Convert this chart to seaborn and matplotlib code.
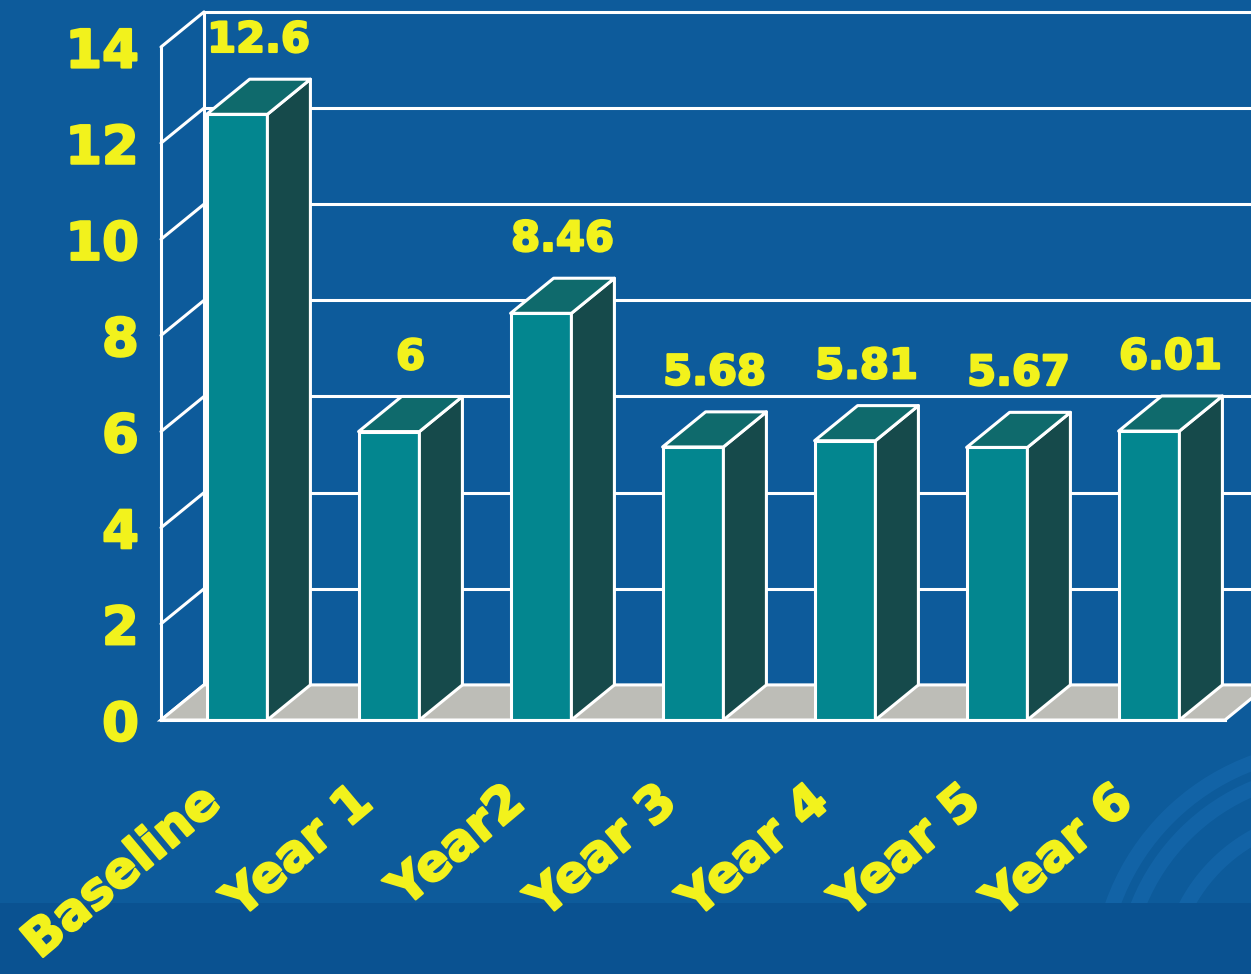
import numpy as np
import matplotlib
matplotlib.use("Agg")
import matplotlib.pyplot as plt
import matplotlib.patheffects as pe
from matplotlib.patches import Polygon, Rectangle, Arc
from matplotlib.transforms import offset_copy
import seaborn as sns

# ---- data -------------------------------------------------------------
categories = ["Baseline", "Year 1", "Year2", "Year 3", "Year 4", "Year 5", "Year 6"]
values = [12.6, 6, 8.46, 5.68, 5.81, 5.67, 6.01]
value_labels = ["12.6", "6", "8.46", "5.68", "5.81", "5.67", "6.01"]
y_ticks = [0, 2, 4, 6, 8, 10, 12, 14]

# ---- style ------------------------------------------------------------
BG = "#0d5b9b"
BG_LOW = "#0a5291"
FRONT = "#03868f"
SIDE = "#164a4b"
TOP = "#0f6a6c"
FLOOR = "#bdbdb7"
YELLOW = "#f2f21c"
LINE = "white"
LW = 2.2
HEAVY = [pe.withStroke(linewidth=1.6, foreground=YELLOW)]

# depth of the pseudo-3D box, in data units (x: categories, y: values)
DX, DY = 0.283, 0.73

sns.set_style("white")
plt.rcParams["font.family"] = ["DejaVu Sans"]

W, H = 1251, 974
BAND = 71
fig = plt.figure(figsize=(W / 100, H / 100), dpi=100, facecolor=BG)

# darker strip along the bottom and faint decorative rings above it
fig.add_artist(Rectangle((0, 0), 1, BAND / H, transform=fig.transFigure,
                         facecolor=BG_LOW, edgecolor="none", zorder=0))
ring_clip = Rectangle((0, BAND / H), 1, 1, transform=fig.transFigure)
for r in (236, 212, 168):
    arc = Arc((1335 / W, -10 / H), 2 * r / W, 2 * r / H, theta1=90, theta2=180,
              transform=fig.transFigure, color="#1567ab", lw=11, alpha=0.7, zorder=0)
    fig.add_artist(arc)
    arc.set_clip_path(ring_clip)

x_left_px, y_zero_px = 161, 720
px_per_cat, px_per_unit = 152, 673 / 14
ax = fig.add_axes([x_left_px / W, (H - y_zero_px) / H,
                   (W - x_left_px) / W, y_zero_px / H])
ax.set_facecolor("none")

# front faces of the bars
sns.barplot(x=categories, y=values, width=0.4, color=FRONT, saturation=1,
            edgecolor=LINE, linewidth=LW, ax=ax, zorder=4)
ax.set_xlim(-0.5, -0.5 + (W - x_left_px) / px_per_cat)
ax.set_ylim(0, y_zero_px / px_per_unit)

n = len(categories)
x0, x1 = -0.5, n - 0.5

# back wall gridlines and left wall diagonals
for v in y_ticks:
    ax.plot([x0 + DX, ax.get_xlim()[1] + 1], [v + DY, v + DY], color=LINE, lw=LW, zorder=1)
    ax.plot([x0, x0 + DX], [v, v + DY], color=LINE, lw=LW, zorder=1, clip_on=False)
ax.plot([x0 + DX, x0 + DX], [DY, y_ticks[-1] + DY], color=LINE, lw=LW, zorder=1)

# floor
ax.add_patch(Polygon([(x0, 0), (x1, 0), (x1 + DX, DY), (x0 + DX, DY)], closed=True,
                     facecolor=FLOOR, edgecolor=LINE, lw=LW, zorder=2, clip_on=False))

# side and top faces, built from each drawn bar
for bar, lab in zip(ax.patches[:n], value_labels):
    bx, bw, bh = bar.get_x(), bar.get_width(), bar.get_height()
    side = [(bx + bw, 0), (bx + bw + DX, DY), (bx + bw + DX, bh + DY), (bx + bw, bh)]
    top = [(bx, bh), (bx + bw, bh), (bx + bw + DX, bh + DY), (bx + DX, bh + DY)]
    ax.add_patch(Polygon(side, closed=True, facecolor=SIDE, edgecolor=LINE, lw=LW,
                         joinstyle="round", zorder=4))
    ax.add_patch(Polygon(top, closed=True, facecolor=TOP, edgecolor=LINE, lw=LW,
                         joinstyle="round", zorder=4))
    ax.text(bx + bw / 2 + DX / 2, bh + DY + 0.38, lab, ha="center", va="bottom",
            color=YELLOW, fontsize=30, fontweight="bold", zorder=5, path_effects=HEAVY)

# axes frame
for s in ("top", "right"):
    ax.spines[s].set_visible(False)
ax.spines["left"].set_bounds(0, y_ticks[-1])
ax.spines["bottom"].set_bounds(x0, x1)
for s in ("left", "bottom"):
    ax.spines[s].set_color(LINE)
    ax.spines[s].set_linewidth(LW)
    ax.spines[s].set_zorder(6)

ax.set_yticks(y_ticks)
ax.set_yticklabels([str(t) for t in y_ticks], fontsize=38, fontweight="bold", color=YELLOW)
for t in ax.get_yticklabels():
    t.set_path_effects(HEAVY)
ax.set_xticks(np.arange(x0, x1 + 0.5, 1.0))
ax.set_xticklabels([])
ax.tick_params(axis="both", direction="out", length=10, width=LW, color=LINE)
ax.tick_params(axis="y", pad=6)
ax.set_xlabel("")
ax.set_ylabel("")
ax.grid(False)

# rotated category names
for i, name in enumerate(categories):
    tr = offset_copy(ax.transData, fig=fig, x=-14, y=-86, units="dots")
    ax.text(i, 0, name, transform=tr, rotation=40, rotation_mode="anchor",
            ha="right", va="baseline", color=YELLOW, fontsize=36, fontweight="bold",
            clip_on=False, path_effects=HEAVY)

fig.savefig("out.png", dpi=100, facecolor=BG)
